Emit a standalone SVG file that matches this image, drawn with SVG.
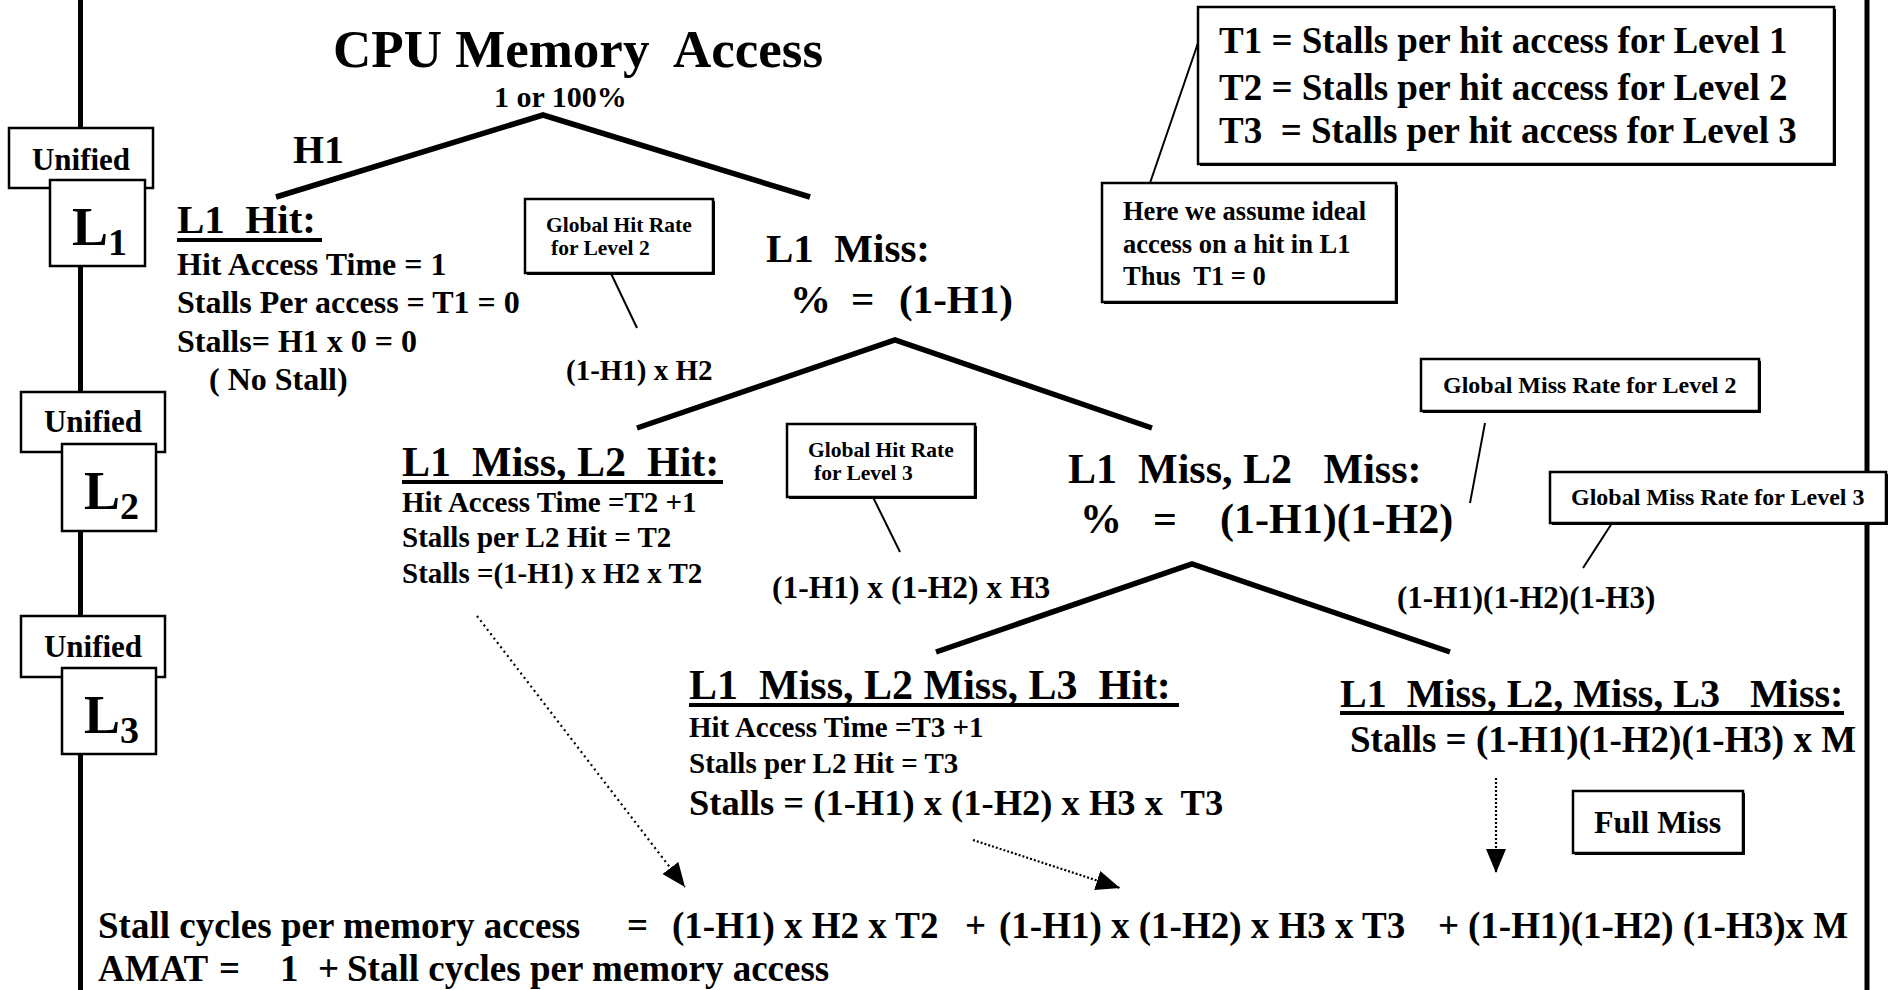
<svg xmlns="http://www.w3.org/2000/svg" width="1892" height="990" viewBox="0 0 1892 990">
<style>
text{font-family:"Liberation Serif","Times New Roman",serif;font-weight:bold;fill:#000;white-space:pre}
.box{fill:#fff;stroke:#000;stroke-width:2.5}
.shadow{fill:#000}
.tree{fill:none;stroke:#000;stroke-width:5.5;stroke-linejoin:miter}
.lead{stroke:#000;stroke-width:2;fill:none}
.rail{stroke:#000;stroke-width:5}
.ul{stroke:#000;stroke-width:4}
.dot{stroke:#000;stroke-width:2.2;fill:none;stroke-dasharray:2 3.5}
.dot2{stroke:#000;stroke-width:2.2;fill:none;stroke-dasharray:2 2}
.uni{font-size:31px;text-anchor:middle}
.bigL{font-size:54px}
.sub{font-size:38px}
.h{font-size:42px}
.s32{font-size:32px}
.s29{font-size:29px}
.g{font-size:21.5px}
.bot{font-size:37px}
</style>
<defs>
<marker id="ah" markerUnits="userSpaceOnUse" markerWidth="26" markerHeight="22" refX="24" refY="10" orient="auto">
<path d="M0,0 L24,10 L0,20 z" fill="#000"/>
</marker>
</defs>
<rect width="1892" height="990" fill="#fff"/>

<g id="rails">
<line class="rail" x1="80.5" y1="0" x2="80.5" y2="990"/>
<line class="rail" x1="1867" y1="0" x2="1867" y2="990"/>
</g>

<g id="connectors">
<polyline class="tree" points="276,197 543,115 810,197"/>
<polyline class="tree" points="637,428 895,340 1152,428"/>
<polyline class="tree" points="936,652 1192,564 1450,652"/>
<line class="lead" x1="606" y1="263" x2="637" y2="328"/>
<line class="lead" x1="868" y1="487" x2="900" y2="552"/>
<line class="lead" x1="1198" y1="43" x2="1150" y2="183"/>
<line class="lead" x1="1485" y1="423" x2="1470" y2="503"/>
<line class="lead" x1="1614" y1="520" x2="1583" y2="568"/>
<line class="dot" x1="477" y1="616" x2="685" y2="887" marker-end="url(#ah)"/>
<line class="dot2" x1="973" y1="840" x2="1120" y2="888" marker-end="url(#ah)"/>
<line class="dot2" x1="1496" y1="778" x2="1496" y2="873" marker-end="url(#ah)"/>
</g>

<g id="unified-l1">
<rect class="box" x="9" y="128" width="144" height="60"/>
<text class="uni" x="81" y="170">Unified</text>
<rect class="box" x="50" y="180" width="95" height="86"/>
<text class="bigL" x="72" y="245">L</text><text class="sub" x="108" y="255">1</text>
</g>
<g id="unified-l2">
<rect class="box" x="21" y="392" width="144" height="60"/>
<text class="uni" x="93" y="432">Unified</text>
<rect class="box" x="62" y="444" width="94" height="87"/>
<text class="bigL" x="84" y="509">L</text><text class="sub" x="120" y="519">2</text>
</g>
<g id="unified-l3">
<rect class="box" x="21" y="616" width="144" height="61"/>
<text class="uni" x="93" y="657">Unified</text>
<rect class="box" x="62" y="668" width="94" height="86"/>
<text class="bigL" x="84" y="733">L</text><text class="sub" x="120" y="743">3</text>
</g>

<g id="root">
<text x="333" y="67" font-size="53" xml:space="preserve">CPU Memory  Access</text>
<text x="494" y="107" font-size="30">1 or 100%</text>
<text x="293" y="163" font-size="40">H1</text>
</g>

<g id="l1-hit">
<text x="177" y="233" font-size="41" xml:space="preserve">L1  Hit:</text>
<line class="ul" x1="177" y1="240" x2="322" y2="240"/>
<text class="s32" x="177" y="275">Hit Access Time = 1</text>
<text class="s32" x="177" y="313">Stalls Per access = T1 = 0</text>
<text class="s32" x="177" y="352">Stalls= H1 x 0 = 0</text>
<text class="s32" x="209" y="390">( No Stall)</text>
</g>

<g id="ghr2">
<rect class="shadow" x="527" y="201" width="188" height="74"/>
<rect class="box" x="525" y="199" width="188" height="74"/>
<text class="g" x="546" y="232">Global Hit Rate</text>
<text class="g" x="551" y="255">for Level 2</text>
</g>
<text id="rate-h2" x="566" y="380" font-size="29">(1-H1) x H2</text>

<g id="l1-miss">
<text x="766" y="262" font-size="41" xml:space="preserve">L1  Miss:</text>
<text x="790" y="313" font-size="41">%</text>
<text x="851" y="313" font-size="41">=</text>
<text x="899" y="313" font-size="41">(1-H1)</text>
</g>

<g id="tdefs">
<rect class="shadow" x="1200" y="9" width="636" height="157"/>
<rect class="box" x="1198" y="7" width="636" height="157"/>
<text x="1219" y="53" font-size="37">T1 = Stalls per hit access for Level 1</text>
<text x="1219" y="100" font-size="37">T2 = Stalls per hit access for Level 2</text>
<text x="1219" y="143" font-size="37" xml:space="preserve">T3  = Stalls per hit access for Level 3</text>
</g>

<g id="assume">
<rect class="shadow" x="1104" y="185" width="294" height="119"/>
<rect class="box" x="1102" y="183" width="294" height="119"/>
<text x="1123" y="220" font-size="26.5">Here we assume ideal</text>
<text x="1123" y="253" font-size="26.5">access on a hit in L1</text>
<text x="1123" y="285" font-size="26.5" xml:space="preserve">Thus  T1 = 0</text>
</g>

<g id="gmr2">
<rect class="shadow" x="1423" y="361" width="338" height="52"/>
<rect class="box" x="1421" y="359" width="338" height="52"/>
<text x="1443" y="393" font-size="24">Global Miss Rate for Level 2</text>
</g>

<g id="l2-hit">
<text class="h" x="402" y="476" xml:space="preserve">L1  Miss, L2  Hit:</text>
<line class="ul" x1="402" y1="482" x2="723" y2="482"/>
<text class="s29" x="402" y="512">Hit Access Time =T2 +1</text>
<text class="s29" x="402" y="547">Stalls per L2 Hit = T2</text>
<text class="s29" x="402" y="583">Stalls =(1-H1) x H2 x T2</text>
</g>

<g id="ghr3">
<rect class="shadow" x="789" y="426" width="188" height="73"/>
<rect class="box" x="787" y="424" width="188" height="73"/>
<text class="g" x="808" y="457">Global Hit Rate</text>
<text class="g" x="814" y="480">for Level 3</text>
</g>
<text id="rate-h3" x="772" y="598" font-size="31.5">(1-H1) x (1-H2) x H3</text>

<g id="l2-miss">
<text class="h" x="1068" y="483" xml:space="preserve">L1  Miss, L2   Miss:</text>
<text class="h" x="1080" y="533">%</text>
<text class="h" x="1153" y="533">=</text>
<text class="h" x="1220" y="533">(1-H1)(1-H2)</text>
</g>

<g id="gmr3">
<rect class="shadow" x="1552" y="474" width="336" height="51"/>
<rect class="box" x="1550" y="472" width="336" height="51"/>
<text x="1571" y="505" font-size="24">Global Miss Rate for Level 3</text>
</g>
<text id="rate-m3" x="1397" y="608" font-size="31">(1-H1)(1-H2)(1-H3)</text>

<g id="l3-hit">
<text class="h" x="689" y="699" xml:space="preserve">L1  Miss, L2 Miss, L3  Hit:</text>
<line class="ul" x1="689" y1="705" x2="1179" y2="705"/>
<text class="s29" x="689" y="737">Hit Access Time =T3 +1</text>
<text class="s29" x="689" y="773">Stalls per L2 Hit = T3</text>
<text x="689" y="815" font-size="36.5" xml:space="preserve">Stalls = (1-H1) x (1-H2) x H3 x  T3</text>
</g>

<g id="l3-miss">
<text x="1340" y="707" font-size="40" xml:space="preserve">L1  Miss, L2, Miss, L3   Miss:</text>
<line class="ul" x1="1340" y1="713" x2="1844" y2="713"/>
<text x="1350" y="752" font-size="37">Stalls = (1-H1)(1-H2)(1-H3) x M</text>
</g>

<g id="full-miss">
<rect class="shadow" x="1575" y="793" width="170" height="62"/>
<rect class="box" x="1573" y="791" width="170" height="62"/>
<text x="1594" y="833" font-size="32">Full Miss</text>
</g>

<g id="formula">
<text class="bot" x="98" y="938">Stall cycles per memory access</text>
<text class="bot" x="627" y="938">=</text>
<text class="bot" x="672" y="938">(1-H1) x H2 x T2</text>
<text class="bot" x="965" y="938">+</text>
<text class="bot" x="999" y="938">(1-H1) x (1-H2) x H3 x T3</text>
<text class="bot" x="1438" y="938">+</text>
<text class="bot" x="1468" y="938">(1-H1)(1-H2) (1-H3)x M</text>
<text class="bot" x="98" y="981">AMAT</text>
<text class="bot" x="219" y="981">=</text>
<text class="bot" x="280" y="981">1</text>
<text class="bot" x="318" y="981">+</text>
<text class="bot" x="347" y="981">Stall cycles per memory access</text>
</g>
</svg>
